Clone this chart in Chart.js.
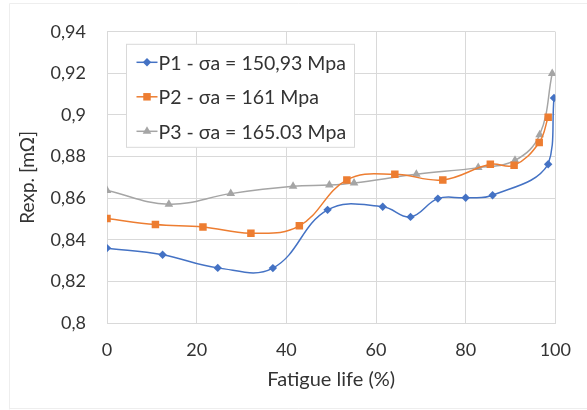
<!DOCTYPE html>
<html>
<head>
<meta charset="utf-8">
<script src="https://cdn.jsdelivr.net/npm/chart.js@4"></script>
<style>
  html, body { margin: 0; padding: 0; background: #fff; }
  #wrap { position: relative; width: 587px; height: 410px; }
</style>
</head>
<body>
<div id="wrap"><canvas id="fatigueChart" width="587" height="410"></canvas></div>
<script>
// values
const p1Life = [0, 12.4, 24.7, 37, 49.2, 61.5, 67.7, 73.8, 80, 86, 98.4, 99.7];
const p1Res = [0.836, 0.8328, 0.8265, 0.8264, 0.8544, 0.8559, 0.851, 0.8598, 0.8602, 0.8614, 0.8763, 0.9082];

const p2Life = [0, 10.8, 21.4, 32.1, 42.9, 53.5, 64.2, 74.9, 85.5, 90.8, 96.4, 98.4];
const p2Res = [0.8502, 0.8473, 0.8462, 0.8432, 0.8467, 0.8688, 0.8715, 0.8688, 0.8763, 0.8758, 0.8868, 0.8989];

const p3Life = [0, 13.8, 27.6, 41.5, 49.6, 55.1, 69, 82.8, 91, 96.5, 99.3];
const p3Res = [0.8637, 0.8571, 0.8622, 0.8657, 0.8663, 0.8673, 0.8715, 0.8747, 0.8782, 0.8905, 0.920];

const seriesNames = ["P1 - σa = 150,93 Mpa", "P2 - σa = 161 Mpa", "P3 - σa = 165.03 Mpa"];

const FONT = "Lato, 'Open Sans', sans-serif";
const TEXT = "#333333";
const GRID = "#d9d9d9";

function toPoints(xs, ys) {
    return xs.map(function (x, i) { return { x: x, y: ys[i] }; });
}

function makeSet(label, xs, ys, color, style, radius) {
    return {
        label: label,
        data: toPoints(xs, ys),
        borderColor: color,
        backgroundColor: color,
        borderWidth: 1.5,
        pointStyle: style,
        pointRadius: radius,
        pointHoverRadius: radius,
        pointBorderWidth: 0,
        tension: 0.4
    };
}

// legend box drawn inside the plot area, top-left
const boxLegend = {
    id: "boxLegend",
    afterDraw: function (chart) {
        const ctx = chart.ctx;
        const area = chart.chartArea;
        const x0 = area.left + 19.5, y0 = area.top + 12.5;
        const w = 228, h = 103;
        ctx.save();
        ctx.fillStyle = "#fff";
        ctx.fillRect(x0, y0, w, h);
        ctx.strokeStyle = GRID;
        ctx.lineWidth = 1;
        ctx.strokeRect(x0, y0, w, h);
        ctx.font = "19.5px " + FONT;
        ctx.textBaseline = "middle";
        chart.data.datasets.forEach(function (ds, i) {
            const y = y0 + 18 + i * 34.5;
            ctx.strokeStyle = ds.borderColor;
            ctx.lineWidth = 1.5;
            ctx.beginPath();
            ctx.moveTo(x0 + 10, y);
            ctx.lineTo(x0 + 31, y);
            ctx.stroke();
            ctx.fillStyle = ds.backgroundColor;
            Chart.helpers.drawPoint(ctx, { pointStyle: ds.pointStyle, radius: ds.pointRadius, rotation: 0, borderWidth: 0 }, x0 + 20.5, y);
            ctx.fillStyle = TEXT;
            ctx.fillText(ds.label, x0 + 32, y + 1);
        });
        ctx.restore();
    }
};

// faint outer frame
const frame = {
    id: "frame",
    beforeDraw: function (chart) {
        const ctx = chart.ctx;
        ctx.save();
        ctx.strokeStyle = "#eeeeee";
        ctx.lineWidth = 1;
        ctx.beginPath();
        ctx.moveTo(9.5, 409.5);
        ctx.lineTo(9.5, 3.5);
        ctx.lineTo(587, 3.5);
        ctx.moveTo(9.5, 408.5);
        ctx.lineTo(587, 408.5);
        ctx.stroke();
        ctx.restore();
    }
};

new Chart(document.getElementById("fatigueChart"), {
    type: "line",
    data: {
        datasets: [
            makeSet(seriesNames[0], p1Life, p1Res, "#4472C4", "rectRot", 4.2),
            makeSet(seriesNames[1], p2Life, p2Res, "#ED7D31", "rect", 5.3),
            makeSet(seriesNames[2], p3Life, p3Res, "#A5A5A5", "triangle", 5)
        ]
    },
    options: {
        responsive: false,
        animation: false,
        layout: { padding: { left: 0, right: 29, top: 23, bottom: 18 } },
        plugins: {
            legend: { display: false },
            tooltip: { enabled: false }
        },
        scales: {
            x: {
                type: "linear",
                min: 0,
                max: 100,
                ticks: {
                    stepSize: 20,
                    color: TEXT,
                    padding: 16,
                    font: { family: FONT, size: 18 }
                },
                grid: { color: GRID, drawTicks: false },
                border: { color: GRID },
                title: {
                    display: true,
                    text: "Fatigue life (%)",
                    color: TEXT,
                    font: { family: FONT, size: 20 },
                    padding: { top: 4, bottom: 0 }
                },
                afterFit: function (scale) { scale.height = 69; }
            },
            y: {
                min: 0.8,
                max: 0.94,
                ticks: {
                    stepSize: 0.02,
                    color: TEXT,
                    padding: 21,
                    font: { family: FONT, size: 18 },
                    callback: function (v) {
                        return String(parseFloat(v.toFixed(2))).replace(".", ",");
                    }
                },
                grid: { color: GRID, drawTicks: false },
                border: { color: GRID },
                title: {
                    display: true,
                    text: "Rexp. [mΩ]",
                    color: TEXT,
                    font: { family: FONT, size: 19 },
                    padding: { top: 16, bottom: 0 }
                },
                afterFit: function (scale) { scale.width = 107; }
            }
        }
    },
    plugins: [frame, boxLegend]
});
</script>
</body>
</html>
